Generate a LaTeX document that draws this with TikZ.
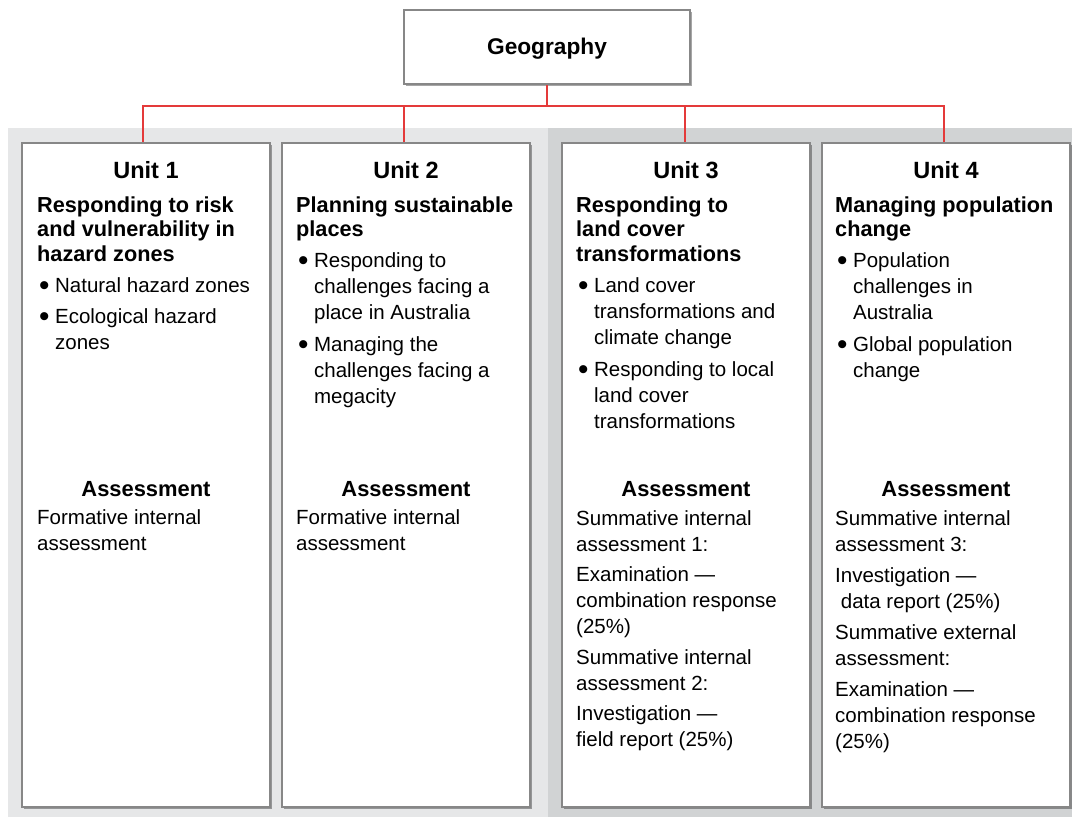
\documentclass[tikz,border=0pt]{standalone}
\usepackage{fontspec}
\setmainfont{Liberation Sans}
\usetikzlibrary{positioning, shadows}

\definecolor{panellight}{RGB}{230,231,232}
\definecolor{paneldark}{RGB}{209,211,212}
\definecolor{linkred}{RGB}{228,58,58}
\definecolor{boxgray}{RGB}{135,135,135}

% bullet list: one row per line, \\[5pt] between items
\newcommand{\dotb}{\raisebox{-3.4pt}{\scalebox{1.45}{\textbullet}}}
\newcommand{\blist}[1]{\begin{tabular}[t]{@{\hspace{2pt}}l@{\hspace{5.5pt}}l@{}}#1\end{tabular}}
\newcommand{\lines}[1]{\begin{tabular}[t]{@{}l@{}}#1\end{tabular}}

\tikzset{
  boxshadow/.style={drop shadow={shadow xshift=1.5pt, shadow yshift=-1.5pt, opacity=.35, fill=black}},
  unitbox/.style={draw=boxgray, line width=1.6pt, fill=white, minimum width=248pt, minimum height=664pt, boxshadow},
  geobox/.style={draw=boxgray, line width=2.2pt, fill=white, minimum width=286pt, minimum height=74pt, boxshadow,
    text depth=0.5pt, font=\bfseries\fontsize{22.7}{26}\selectfont},
  unithead/.style={anchor=base, inner sep=0pt, font=\bfseries\fontsize{23.5}{28}\selectfont},
  assesshead/.style={unithead, font=\bfseries\fontsize{21.9}{26}\selectfont},
  topic/.style={anchor=base west, inner sep=0pt, font=\bfseries\fontsize{21.7}{24.6}\selectfont},
  body/.style={anchor=base west, inner sep=0pt, font=\fontsize{20.5}{26}\selectfont},
  link/.style={draw=linkred, line width=2.3pt},
}

\begin{document}
\begin{tikzpicture}[x=1pt, y=-1pt]
   \useasboundingbox (0,0) rectangle (1072,817);
   \fill[white] (0,0) rectangle (1072,817);

   % background panels
   \fill[panellight] (8,128) rectangle (548,817);
   \fill[paneldark] (548,128) rectangle (1072,817);

   \node[geobox] (geo) at (547,47) {Geography};

   \node[unitbox] (u1) at (146,475) {};
   \node[unitbox] (u2) at (406,475) {};
   \node[unitbox] (u3) at (686,475) {};
   \node[unitbox] (u4) at (946,475) {};

   \path[link]
    (geo.south) -- ++(0,21) -| ([xshift=-3pt]u1.north)
    (geo.south) -- ++(0,21) -| ([xshift=-2pt]u2.north)
    (geo.south) -- ++(0,21) -| ([xshift=-1pt]u3.north)
    (geo.south) -- ++(0,21) -| ([xshift=-2pt]u4.north);

   % Unit 1
   \node[unithead] (u1head) at (146,178) {Unit 1};
   \node[topic] (u1topic) at (37,212) {\lines{Responding to risk\\and vulnerability in\\hazard zones}};
   \node[body] (u1list) at (37,292) {\blist{\dotb & Natural hazard zones\\[5pt]
      \dotb & Ecological hazard\\ & zones}};
   \node[assesshead] (u1ahead) at (146,496) {Assessment};
   \node[body] (u1abody) at (37,524) {\lines{Formative internal\\assessment}};

   % Unit 2
   \node[unithead] (u2head) at (406,178) {Unit 2};
   \node[topic] (u2topic) at (296,212) {\lines{Planning sustainable\\places}};
   \node[body] (u2list) at (296,267) {\blist{\dotb & Responding to\\ & challenges facing a\\ & place in Australia\\[6pt]
      \dotb & Managing the\\ & challenges facing a\\ & megacity}};
   \node[assesshead] (u2ahead) at (406,496) {Assessment};
   \node[body] (u2abody) at (296,524) {\lines{Formative internal\\assessment}};

   % Unit 3
   \node[unithead] (u3head) at (686,178) {Unit 3};
   \node[topic] (u3topic) at (576,212) {\lines{Responding to\\land cover\\transformations}};
   \node[body] (u3list) at (576,292) {\blist{\dotb & Land cover\\ & transformations and\\ & climate change\\[6pt]
      \dotb & Responding to local\\ & land cover\\ & transformations}};
   \node[assesshead] (u3ahead) at (686,496) {Assessment};
   \node[body] (u3abody) at (576,525) {\lines{Summative internal\\assessment 1:\\[4.5pt]
      Examination —\\combination response\\(25\%)\\[4.5pt]
      Summative internal\\assessment 2:\\[4.5pt]
      Investigation —\\field report (25\%)}};

   % Unit 4
   \node[unithead] (u4head) at (946,178) {Unit 4};
   \node[topic] (u4topic) at (835,212) {\lines{Managing population\\change}};
   \node[body] (u4list) at (835,267) {\blist{\dotb & Population\\ & challenges in\\ & Australia\\[6pt]
      \dotb & Global population\\ & change}};
   \node[assesshead] (u4ahead) at (946,496) {Assessment};
   \node[body] (u4abody) at (835,525) {\lines{Summative internal\\assessment 3:\\[5pt]
      Investigation —\\\ data report (25\%)\\[5pt]
      Summative external\\assessment:\\[5pt]
      Examination —\\combination response\\(25\%)}};
\end{tikzpicture}
\end{document}
